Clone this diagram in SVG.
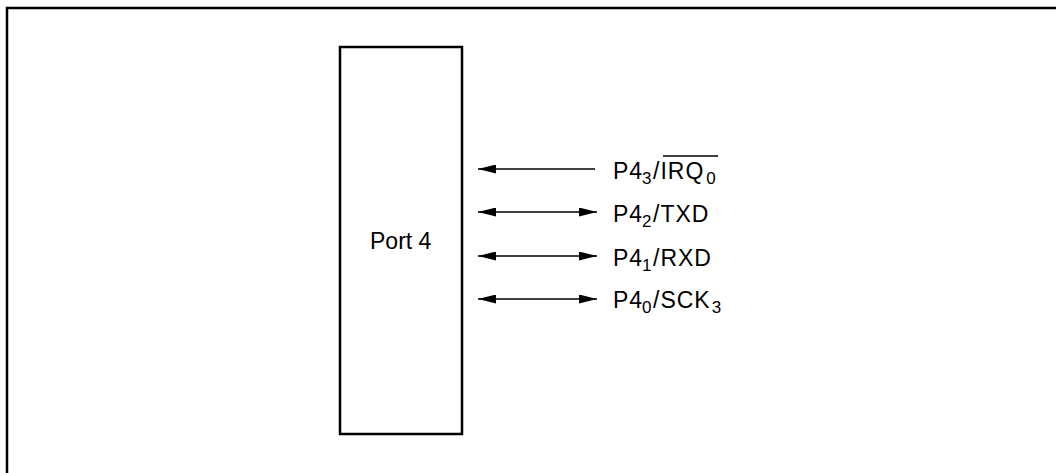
<svg xmlns="http://www.w3.org/2000/svg" width="1056" height="473" viewBox="0 0 1056 473">
<style>
.frame{fill:none;stroke:#000;stroke-width:2.5}
.box{fill:#fff;stroke:#000;stroke-width:2.5}
.ln{stroke:#000;stroke-width:1.5;fill:none}
text{font-family:"Liberation Sans",Arial,sans-serif;font-size:23px;fill:#000}
.lbl{letter-spacing:1px}
.sub{font-size:17px;letter-spacing:0}
</style>
<defs>
<marker id="ah" viewBox="0 0 18 9" refX="18" refY="4.5" markerWidth="18" markerHeight="9" markerUnits="userSpaceOnUse" orient="auto-start-reverse">
<path d="M0,0 L18,4.5 L0,9 Z" fill="#000"/>
</marker>
</defs>
<rect width="1056" height="473" fill="#fff"/>
<rect class="frame" x="7" y="8" width="1070" height="480"/>
<g id="port4">
<rect class="box" x="340" y="47" width="122" height="387"/>
<text x="370" y="249">Port 4</text>
</g>
<g id="connectors">
<line class="ln" x1="595" y1="169" x2="478" y2="169" marker-end="url(#ah)"/>
<line class="ln" x1="478" y1="212" x2="597" y2="212" marker-start="url(#ah)" marker-end="url(#ah)"/>
<line class="ln" x1="478" y1="256" x2="597" y2="256" marker-start="url(#ah)" marker-end="url(#ah)"/>
<line class="ln" x1="478" y1="299" x2="597" y2="299" marker-start="url(#ah)" marker-end="url(#ah)"/>
</g>
<g id="p43">
<text class="lbl" x="613" y="179">P4<tspan class="sub" x="642" dy="5">3</tspan><tspan x="653" dy="-5">/IRQ</tspan><tspan class="sub" dx="2" dy="5">0</tspan></text>
<line class="ln" x1="663" y1="156" x2="718" y2="156"/>
</g>
<g id="p42">
<text class="lbl" x="613" y="222">P4<tspan class="sub" x="642" dy="5">2</tspan><tspan x="653" dy="-5">/TXD</tspan></text>
</g>
<g id="p41">
<text class="lbl" x="613" y="266">P4<tspan class="sub" x="642" dy="5">1</tspan><tspan x="653" dy="-5">/RXD</tspan></text>
</g>
<g id="p40">
<text class="lbl" x="613" y="308">P4<tspan class="sub" x="642" dy="5">0</tspan><tspan x="653" dy="-5">/SCK</tspan><tspan class="sub" dx="1" dy="5">3</tspan></text>
</g>
</svg>
